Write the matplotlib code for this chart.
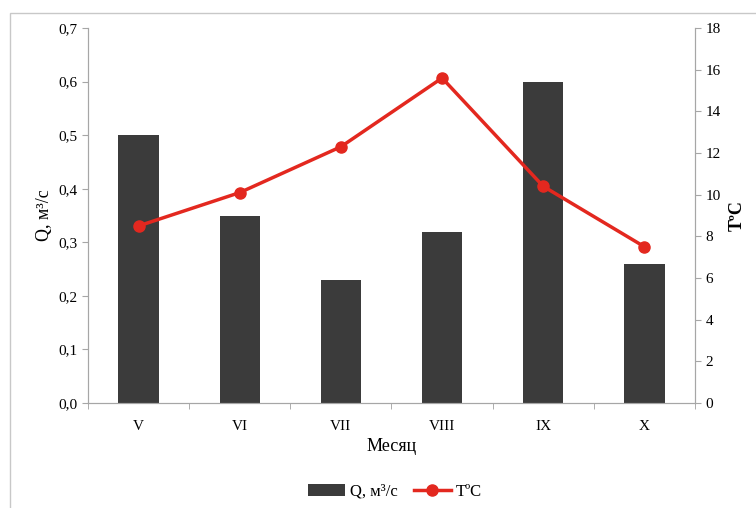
import matplotlib
matplotlib.use("Agg")
import matplotlib.pyplot as plt
from matplotlib.patches import Rectangle
import numpy as np

plt.rcParams['font.family'] = ['Liberation Serif', 'DejaVu Serif']

months = ['V', 'VI', 'VII', 'VIII', 'IX', 'X']
flow = [0.50, 0.35, 0.23, 0.32, 0.60, 0.26]
temp = [8.5, 10.1, 12.3, 15.6, 10.4, 7.5]

fig = plt.figure(figsize=(7.56, 5.08), dpi=100)
ax = fig.add_axes([88/756, 1 - 403/508, (695 - 88)/756, (403 - 28)/508])
ax2 = ax.twinx()

x = np.arange(len(months))
bars = ax.bar(x, flow, width=0.4, color='#3b3b3b', zorder=2)
line, = ax2.plot(x, temp, color='#e3281f', lw=2.5, marker='o', ms=8)

ax.set_xlim(-0.5, 5.5)
ax.set_ylim(0, 0.7)
ax.set_yticks(np.arange(0, 0.71, 0.1))
ax.set_yticklabels([f"{v:.1f}".replace('.', ',') for v in np.arange(0, 0.71, 0.1)])
ax2.set_ylim(0, 18)
ax2.set_yticks(range(0, 19, 2))

ax.set_xticks(x)
ax.set_xticklabels(months)
ax.set_xticks(np.arange(-0.5, 5.6, 1), minor=True)
ax.tick_params(axis='x', which='major', length=0, pad=12)
ax.tick_params(axis='x', which='minor', length=4, color='#a0a0a0')

grey = '#a6a6a6'
for a in (ax, ax2):
    a.spines['top'].set_visible(False)
    for s in ('left', 'right', 'bottom'):
        a.spines[s].set_color(grey)
    a.tick_params(axis='y', color=grey, length=4, labelsize=11)
ax.tick_params(axis='x', labelsize=11)

ax.set_xlabel('Месяц', fontsize=13, labelpad=4)
ax.set_ylabel('Q, м³/с', fontsize=13, labelpad=4)
ax2.set_ylabel('T\u00baC', fontsize=13, fontweight='bold', labelpad=6)

fig.legend([bars, line], ['Q, м³/с', 'T\u00baC'], loc='center', bbox_to_anchor=(395/756, 1 - 492/508),
           ncol=2, frameon=False, fontsize=12, handlelength=2.2, columnspacing=1.0, handletextpad=0.3)

# thin frame around the whole figure
fig.patches.append(Rectangle((10/756, -0.1), 1.1, 1 - 13/508 + 0.1, transform=fig.transFigure,
                             fill=False, edgecolor='#c8c8c8', lw=1))

fig.savefig('out.png', dpi=100)
